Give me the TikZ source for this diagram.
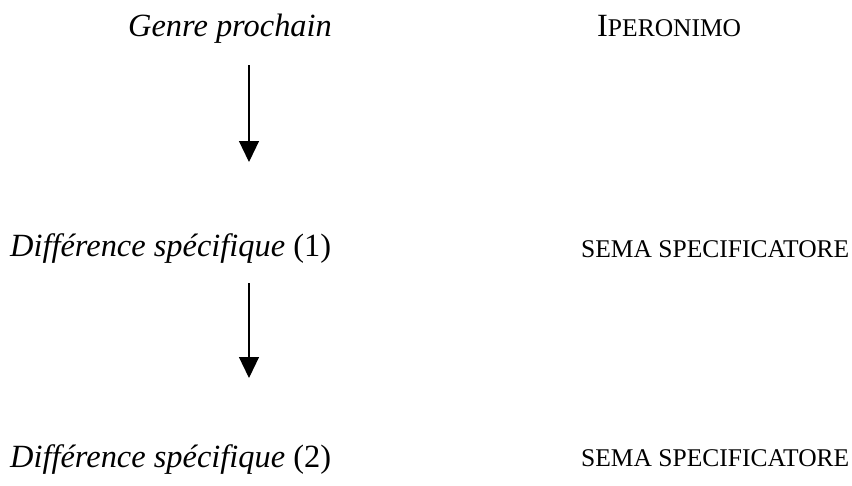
\documentclass[tikz,border=0pt]{standalone}
\usepackage{fontspec}
\setmainfont{Liberation Serif}
\usetikzlibrary{arrows.meta}
\newcommand{\smallcapsize}{\fontsize{25.5}{30}\selectfont}
\begin{document}
\begin{tikzpicture}[x=1pt,y=1pt,
  term/.style={inner sep=0pt,anchor=base west,font=\fontsize{32.4}{38}\selectfont},
  sema/.style={inner sep=0pt,anchor=base west,font=\smallcapsize},
  down/.style={line width=1.2pt,-{Triangle[width=20pt,length=21pt]}}]
\useasboundingbox (0,0) rectangle (852,-485);
% left column: terms
\node[term] (genre) at (128,-36) {\itshape Genre prochain};
\node[term] (diff1) at (10,-256) {\textit{Différence spécifique} (1)};
\node[term] (diff2) at (10,-467) {\textit{Différence spécifique} (2)};
% right column: labels in small capitals
\node[term] (iper) at (597,-36) {I{\smallcapsize PERONIMO}};
\node[sema] (sema1) at (581,-257) {SEMA SPECIFICATORE};
\node[sema] (sema2) at (581,-466) {SEMA SPECIFICATORE};
% arrows
\coordinate (a1s) at (249,-65);
\coordinate (a1e) at (249,-162);
\coordinate (a2s) at (249,-283);
\coordinate (a2e) at (249,-378);
\draw[down] (a1s) -- (a1e);
\draw[down] (a2s) -- (a2e);
\end{tikzpicture}
\end{document}
